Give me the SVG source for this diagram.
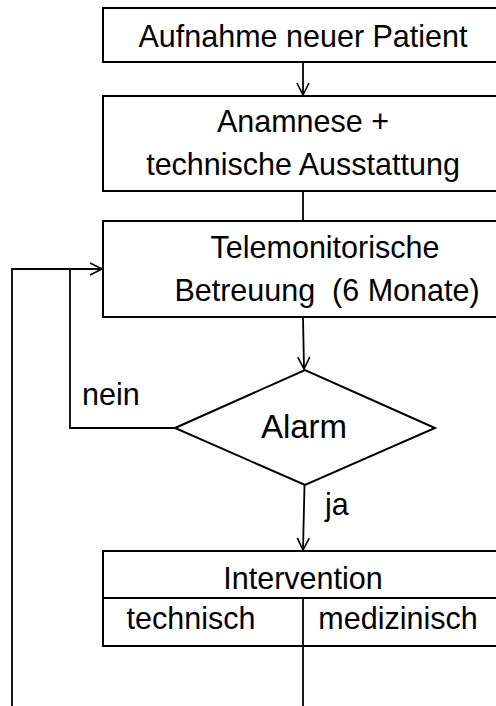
<svg xmlns="http://www.w3.org/2000/svg" width="496" height="706" viewBox="0 0 496 706">
  <defs>
    <marker id="arrow" viewBox="0 0 14 14" refX="13" refY="7" markerWidth="14" markerHeight="14" markerUnits="userSpaceOnUse" orient="auto">
      <path d="M1,1 L13,7 L1,13" fill="none" stroke="#000" stroke-width="1.6"/>
    </marker>
  </defs>
  <style>
    .box { fill: #fff; stroke: #000; stroke-width: 2; }
    .line { fill: none; stroke: #000; stroke-width: 1.8; }
    text { font-family: "Liberation Sans", Arial, sans-serif; font-size: 30.5px; fill: #000; }
    .c { text-anchor: middle; }
  </style>
  <rect width="496" height="706" fill="#fff"/>

  <!-- connectors -->
  <g id="connectors">
    <line class="line" x1="303" y1="62" x2="303" y2="95" marker-end="url(#arrow)"/>
    <line class="line" x1="303" y1="191" x2="303" y2="221"/>
    <line class="line" x1="303" y1="317" x2="304" y2="369" marker-end="url(#arrow)"/>
    <polyline class="line" points="175,428 70,428 70,269"/>
    <polyline class="line" points="12,706 12,269 102,269" marker-end="url(#arrow)"/>
    <line class="line" x1="304.5" y1="485" x2="303" y2="550" marker-end="url(#arrow)"/>
    <line class="line" x1="303" y1="646" x2="303" y2="706"/>
  </g>

  <g id="aufnahme">
    <rect class="box" x="103" y="8" width="400" height="54"/>
    <text class="c" x="303" y="47">Aufnahme neuer Patient</text>
  </g>

  <g id="anamnese">
    <rect class="box" x="103" y="96" width="400" height="95"/>
    <text class="c" x="303" y="132">Anamnese +</text>
    <text class="c" x="303" y="175">technische Ausstattung</text>
  </g>

  <g id="betreuung">
    <rect class="box" x="103" y="221" width="400" height="96"/>
    <text class="c" x="325" y="258">Telemonitorische</text>
    <text class="c" x="327" y="301">Betreuung &#160;(6 Monate)</text>
  </g>

  <g id="alarm">
    <polygon class="box" points="175,428 305,370 435,428 305,485"/>
    <text class="c" x="304" y="438" style="font-size:33px">Alarm</text>
    <text x="82" y="405">nein</text>
    <text x="325" y="515">ja</text>
  </g>

  <g id="intervention">
    <rect class="box" x="103" y="551" width="400" height="95"/>
    <line class="line" x1="103" y1="598" x2="503" y2="598"/>
    <line class="line" x1="303" y1="598" x2="303" y2="646"/>
    <text class="c" x="303" y="589">Intervention</text>
    <text class="c" x="191" y="629">technisch</text>
    <text class="c" x="398" y="629">medizinisch</text>
  </g>
</svg>
